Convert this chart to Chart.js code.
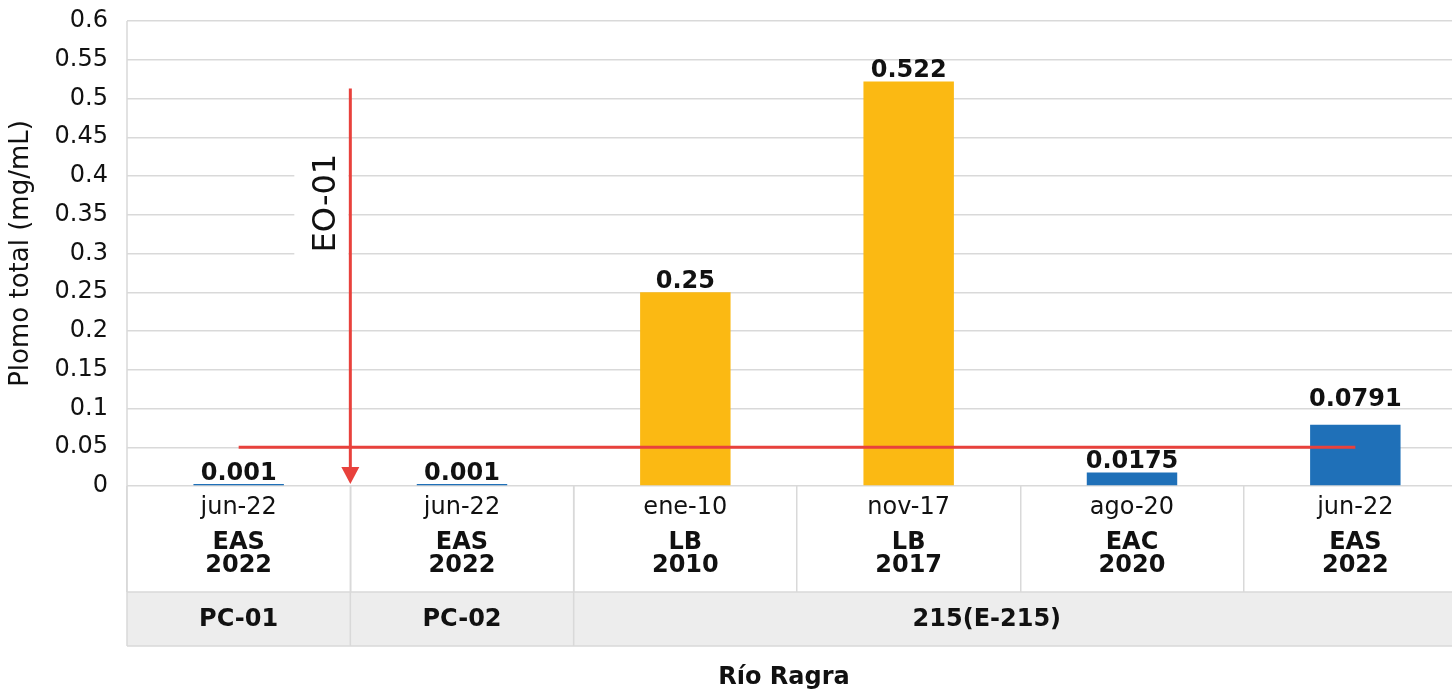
<!DOCTYPE html>
<html>
<head>
<meta charset="utf-8">
<script src="https://cdn.jsdelivr.net/npm/chart.js@4.4.1/dist/chart.umd.min.js"></script>
<style>
  html, body { margin: 0; padding: 0; background: #fff; overflow: hidden; }
  #wrap { position: relative; width: 1470px; height: 694px; }
</style>
</head>
<body>
<div id="wrap"><canvas id="leadChart"></canvas></div>
<script>
// ---- data ----
const sampleDates = ["jun-22", "jun-22", "ene-10", "nov-17", "ago-20", "jun-22"];
const campaigns = ["EAS", "EAS", "LB", "LB", "EAC", "EAS"];
const campaignYears = ["2022", "2022", "2010", "2017", "2020", "2022"];
const leadValues = [0.001, 0.001, 0.25, 0.522, 0.0175, 0.0791];
const eoLimit = [0.05, 0.05, 0.05, 0.05, 0.05, 0.05];
const stations = ["PC-01", "PC-02", "215(E-215)"];
const stationSpans = [1, 1, 4];
const yTickLabels = ["0", "0.05", "0.1", "0.15", "0.2", "0.25", "0.3", "0.35", "0.4", "0.45", "0.5", "0.55", "0.6"];
const eoArrow = { at: 0.5, from: 0.513, to: 0, label: "EO-01", labelAt: 0.365 };

const FONT = "'DejaVu Sans', sans-serif";
const TEXT = "#111111";
const GRID = "#D9D9D9";
const RED = "#E8413C";
const campaignColors = { LB: "#FBB913", EAC: "#1F70B8", EAS: "#1F70B8" };

const ctx = document.getElementById("leadChart").getContext("2d");

// everything Excel draws around the bars: multi-row axis labels, station band,
// value labels and the EO-01 arrow
const decorPlugin = {
  id: "decor",
  beforeDatasetsDraw(chart) {
    const { ctx, scales: { x, y } } = chart;
    // white box behind the EO-01 label (cuts the gridlines like the original)
    const ax = x.getPixelForValue(eoArrow.at);
    const ly = y.getPixelForValue(eoArrow.labelAt);
    ctx.save();
    ctx.fillStyle = "#fff";
    ctx.fillRect(ax - 56, ly - 59, 54, 117);
    ctx.restore();
  },
  afterDraw(chart) {
    const { ctx, chartArea: area, scales: { x, y } } = chart;
    const bottom = area.bottom;
    const bandTop = bottom + 106;
    const bandBottom = bottom + 160;

    ctx.save();

    // station band
    ctx.fillStyle = "#EDEDED";
    ctx.fillRect(area.left, bandTop, area.right - area.left, bandBottom - bandTop);
    ctx.strokeStyle = GRID;
    ctx.lineWidth = 1.5;
    ctx.beginPath();
    ctx.moveTo(area.left, bandTop);
    ctx.lineTo(area.right, bandTop);
    ctx.moveTo(area.left, bandBottom);
    ctx.lineTo(area.right, bandBottom);
    ctx.moveTo(area.left, area.top);
    ctx.lineTo(area.left, bandBottom);
    ctx.stroke();

    // station separators + names
    let start = 0;
    stations.forEach((name, i) => {
      const end = start + stationSpans[i] - 1;
      const left = x.getPixelForValue(start - 0.5);
      const right = x.getPixelForValue(end + 0.5);
      ctx.strokeStyle = GRID;
      ctx.beginPath();
      ctx.moveTo(right, bottom);
      ctx.lineTo(right, bandBottom);
      ctx.stroke();
      const mid = stationSpans[i] > 1 ? x.getPixelForValue((start + end) / 2 - 0.15) : (left + right) / 2;
      ctx.fillStyle = TEXT;
      ctx.font = "bold 24px " + FONT;
      ctx.textAlign = "center";
      ctx.textBaseline = "middle";
      ctx.fillText(name, mid, (bandTop + bandBottom) / 2 + 1);
      start = end + 1;
    });

    // category labels: date, campaign, year
    sampleDates.forEach((d, i) => {
      const cx = x.getPixelForValue(i);
      ctx.fillStyle = TEXT;
      ctx.textAlign = "center";
      ctx.textBaseline = "middle";
      ctx.font = "24px " + FONT;
      ctx.fillText(d, cx, bottom + 22);
      ctx.font = "bold 24px " + FONT;
      ctx.fillText(campaigns[i], cx, bottom + 57);
      ctx.fillText(campaignYears[i], cx, bottom + 80);
    });

    // value labels
    const bars = chart.getDatasetMeta(1).data;
    const lift = chart.options.plugins.decor.labelLift;
    ctx.font = "bold 24px " + FONT;
    ctx.textBaseline = "alphabetic";
    bars.forEach((bar, i) => {
      ctx.fillText(String(leadValues[i]), bar.x, bar.y - 4 - (lift[i] || 0));
    });

    // EO-01 arrow
    const ax = x.getPixelForValue(eoArrow.at);
    const topY = y.getPixelForValue(eoArrow.from);
    const tipY = y.getPixelForValue(eoArrow.to) - 2;
    ctx.strokeStyle = RED;
    ctx.fillStyle = RED;
    ctx.lineWidth = 3;
    ctx.beginPath();
    ctx.moveTo(ax, topY);
    ctx.lineTo(ax, tipY - 16);
    ctx.stroke();
    ctx.beginPath();
    ctx.moveTo(ax - 9, tipY - 17);
    ctx.lineTo(ax + 9, tipY - 17);
    ctx.lineTo(ax, tipY);
    ctx.closePath();
    ctx.fill();

    const ly = y.getPixelForValue(eoArrow.labelAt);
    ctx.translate(ax - 24, ly);
    ctx.rotate(-Math.PI / 2);
    ctx.fillStyle = TEXT;
    ctx.font = "32px " + FONT;
    ctx.textAlign = "center";
    ctx.textBaseline = "middle";
    ctx.fillText(eoArrow.label, 0, 0);
    ctx.setTransform(1, 0, 0, 1, 0, 0);

    // axis title
    ctx.fillStyle = TEXT;
    ctx.font = "bold 24px " + FONT;
    ctx.textAlign = "center";
    ctx.textBaseline = "middle";
    ctx.fillText("Río Ragra", (area.left + area.right) / 2 - 13, bandBottom + 32);

    ctx.restore();
  },
};

new Chart(ctx, {
  type: "bar",
  data: {
    labels: sampleDates,
    datasets: [
      {
        type: "line",
        label: "EO-01",
        data: eoLimit,
        borderColor: RED,
        borderWidth: 3,
        pointRadius: 0,
        order: 0,
      },
      {
        label: "Plomo total",
        data: leadValues,
        backgroundColor: campaigns.map((c) => campaignColors[c]),
        categoryPercentage: 1,
        barPercentage: 0.405,
        minBarLength: 2,
        order: 1,
      },
    ],
  },
  options: {
    responsive: true,
    maintainAspectRatio: false,
    animation: false,
    layout: { padding: { top: 21, left: 0, right: 3, bottom: 0 } },
    scales: {
      x: {
        offset: true,
        border: { display: false },
        grid: {
          offset: true,
          drawOnChartArea: false,
          drawTicks: true,
          tickLength: 106,
          color: GRID,
          lineWidth: 1.5,
        },
        ticks: { display: false },
        afterFit: (scale) => {
          scale.height = 208;
        },
      },
      y: {
        min: 0,
        max: 0.6,
        ticks: {
          stepSize: 0.05,
          padding: 19,
          color: TEXT,
          font: { family: FONT, size: 24 },
          callback: (v, i) => yTickLabels[i],
        },
        border: { display: false },
        grid: { color: GRID, lineWidth: 1.5, drawTicks: false },
        title: {
          display: true,
          text: "Plomo total (mg/mL)",
          color: TEXT,
          font: { family: FONT, size: 26 },
          padding: { top: 6, bottom: 0 },
        },
        afterFit: (scale) => {
          scale.width = 127;
          // tick padding would otherwise push the plot area down
          scale.paddingTop = 0;
          scale.paddingBottom = 0;
        },
      },
    },
    plugins: {
      legend: { display: false },
      tooltip: { enabled: false },
      decor: { labelLift: [0, 0, 0, 0, 0, 15] },
    },
  },
  plugins: [decorPlugin],
});
</script>
</body>
</html>
